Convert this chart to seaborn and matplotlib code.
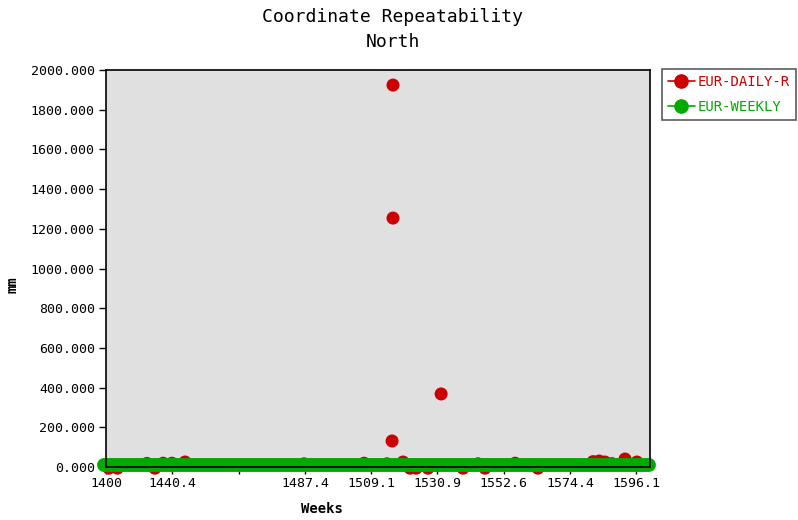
import matplotlib
matplotlib.use("Agg")
import matplotlib.pyplot as plt
from matplotlib.lines import Line2D
from matplotlib.ticker import FormatStrFormatter
import seaborn as sns
import pandas as pd

# EUR-DAILY-R: semana y valor (mm)
daily_weeks = [1423.0, 1425.8, 1435.5, 1438.1, 1440.8, 1443.7, 1448.0, 1487.1,
               1506.8, 1514.3, 1516.0, 1516.3, 1516.3, 1519.6, 1521.9, 1523.9,
               1527.8, 1532.1, 1539.3, 1544.2, 1546.5, 1556.4, 1563.9, 1582.0,
               1584.0, 1585.9, 1588.2, 1592.5, 1596.4]
daily_vals = [-6, -6, 18, -6, 19, 19, 25, 16,
              19, 16, 131, 1254, 1924, 25, -6, -6,
              -6, 368, -6, 16, -6, 19, -6, 27,
              30, 25, 17, 40, 25]

# EUR-WEEKLY
weekly_weeks = [1421.5, 1430, 1440, 1450, 1460, 1470, 1480, 1490, 1500, 1510,
                1520, 1530, 1540, 1550, 1560, 1570, 1580, 1590, 1600.5]
weekly_vals = [10, 10, 10, 10, 10, 10, 10, 10, 10, 10,
               10, 10, 10, 10, 10, 10, 10, 10, 10]

xtick_pos = [1422.05, 1443.8, 1465.6, 1487.4, 1509.1, 1530.9, 1552.6, 1574.4, 1596.1]
xtick_labels = ["1400", "1440.4", "", "1487.4", "1509.1", "1530.9", "1552.6", "1574.4", "1596.1"]

RED = "#CC0000"
GREEN = "#00AA00"

sns.set_style("white")
plt.rcParams["font.family"] = ["DejaVu Sans Mono"]
plt.rcParams["text.color"] = "#000000"
plt.rcParams["axes.labelcolor"] = "#000000"

df_daily = pd.DataFrame({"week": daily_weeks, "mm": daily_vals})
df_weekly = pd.DataFrame({"week": weekly_weeks, "mm": weekly_vals})

fig = plt.figure(figsize=(7.98, 5.2), dpi=100)
ax = fig.add_axes([106 / 798, 53 / 520, 544 / 798, 397 / 520])
ax.set_facecolor("#E0E0E0")

sns.lineplot(data=df_weekly, x="week", y="mm", ax=ax, color=GREEN, linewidth=10,
             solid_capstyle="round", clip_on=False, zorder=3)
sns.scatterplot(data=df_daily, x="week", y="mm", ax=ax, color=RED, s=88,
                edgecolor="none", clip_on=False, zorder=2)

ax.set_xlim(1422.05, 1600.7)
ax.set_ylim(0, 2000)
ax.set_yticks(range(0, 2001, 200))
ax.yaxis.set_major_formatter(FormatStrFormatter("%.3f"))
ax.set_xticks(xtick_pos)
ax.set_xticklabels(xtick_labels)
ax.tick_params(axis="both", direction="out", length=5, width=1, labelsize=9.5,
               colors="#000000", pad=3, bottom=True, left=True)
ax.tick_params(axis="x", pad=2)

for side in ["top", "right", "left", "bottom"]:
    ax.spines[side].set_color("#000000")
    ax.spines[side].set_linewidth(1.2)
    ax.spines[side].set_zorder(4)

ax.set_xlabel("Weeks", fontsize=10, fontweight="bold")
ax.xaxis.set_label_coords((322 - 106) / 544, -35 / 397)
ax.set_ylabel("mm", fontsize=10, fontweight="bold")
ax.yaxis.set_label_coords(-87 / 544, 0.46)

fig.text(393 / 798, 1 - 17 / 520, "Coordinate Repeatability", ha="center", va="center", fontsize=13)
fig.text(393 / 798, 1 - 42 / 520, "North", ha="center", va="center", fontsize=13)

handles = [
    Line2D([0], [0], color=RED, marker="o", markersize=9.5, linewidth=1.2),
    Line2D([0], [0], color=GREEN, marker="o", markersize=9.5, linewidth=1.2),
]
leg = fig.legend(handles, ["EUR-DAILY-R", "EUR-WEEKLY"], loc="upper left",
                 bbox_to_anchor=(662 / 798, 1 - 69 / 520), frameon=True, fancybox=False,
                 fontsize=10, handlelength=1.9, handletextpad=0.2, borderpad=0.45,
                 borderaxespad=0, labelspacing=0.75)
leg.get_frame().set_edgecolor("#333333")
leg.get_frame().set_linewidth(1.2)
for txt, c in zip(leg.get_texts(), [RED, GREEN]):
    txt.set_color(c)

fig.savefig("out.png", dpi=100)
